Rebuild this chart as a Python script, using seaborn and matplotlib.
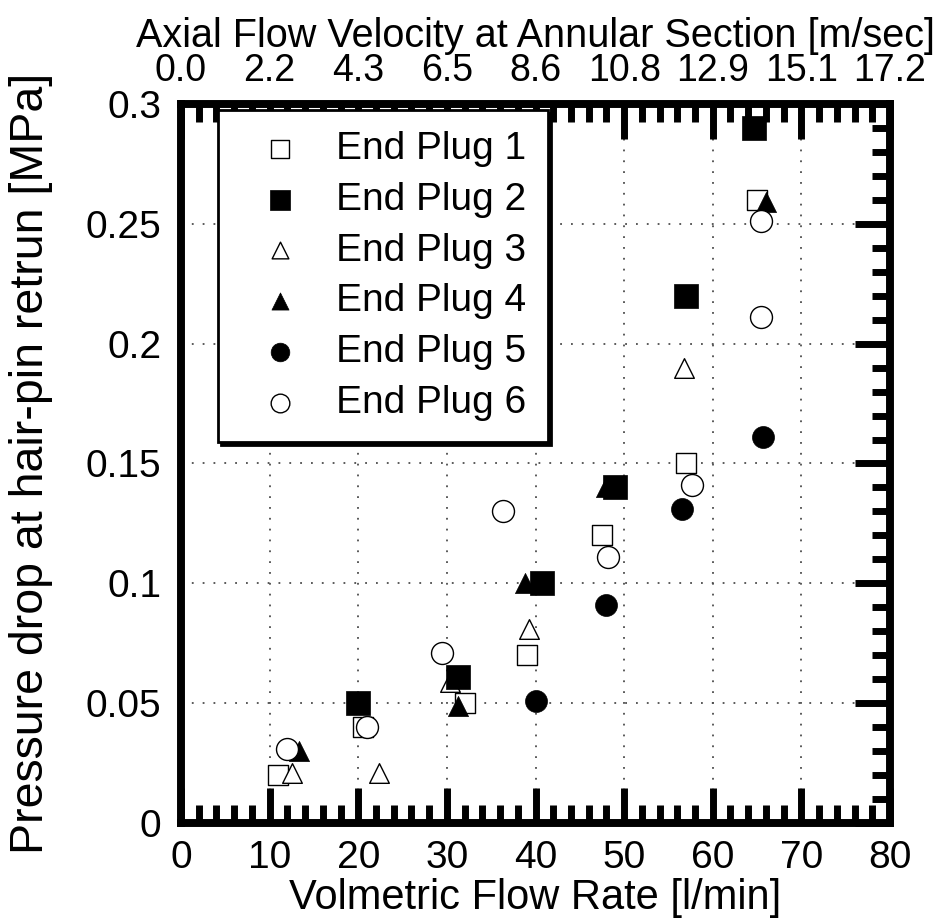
import numpy as np
import pandas as pd
import matplotlib
matplotlib.use("Agg")
import matplotlib.pyplot as plt
from matplotlib.ticker import MultipleLocator
import seaborn as sns

# ---- data ----
plug1_x = [11, 20.5, 32, 39, 47.5, 57, 65]
plug1_y = [0.02, 0.04, 0.05, 0.07, 0.12, 0.15, 0.26]
plug2_x = [20, 31.2, 40.7, 49, 57, 64.7]
plug2_y = [0.05, 0.061, 0.10, 0.14, 0.22, 0.29]
plug3_x = [12.5, 22.3, 30.3, 39.3, 56.7]
plug3_y = [0.021, 0.021, 0.059, 0.081, 0.19]
plug4_x = [13.3, 31.2, 38.8, 48, 66]
plug4_y = [0.030, 0.049, 0.10, 0.14, 0.259]
plug5_x = [40, 48, 56.5, 65.7]
plug5_y = [0.051, 0.091, 0.131, 0.161]
plug6_x = [12, 21, 29.5, 36.3, 48.2, 57.7, 65.5, 65.5]
plug6_y = [0.031, 0.04, 0.071, 0.13, 0.111, 0.141, 0.211, 0.251]

labels = ["End Plug 1", "End Plug 2", "End Plug 3", "End Plug 4", "End Plug 5", "End Plug 6"]
x_ticks = [0, 10, 20, 30, 40, 50, 60, 70, 80]
vel_labels = ["0.0", "2.2", "4.3", "6.5", "8.6", "10.8", "12.9", "15.1", "17.2"]
y_ticks = [0, 0.05, 0.1, 0.15, 0.2, 0.25, 0.3]
y_tick_labels = ["0", "0.05", "0.1", "0.15", "0.2", "0.25", "0.3"]

sns.set_style("white")
plt.rcParams["font.family"] = ["Liberation Sans", "DejaVu Sans"]
plt.rcParams.update({"text.color": "black", "axes.labelcolor": "black",
                     "xtick.color": "black", "ytick.color": "black",
                     "xtick.labelcolor": "black", "ytick.labelcolor": "black"})

fig = plt.figure(figsize=(9.43, 9.23), dpi=100)
ax = fig.add_axes([181/943, 1 - 823/923, (890-181)/943, (823-104)/923])

series = [
    (plug1_x, plug1_y, "s", "white", 220, 1),
    (plug2_x, plug2_y, "s", "black", 300, 3),
    (plug3_x, plug3_y, "^", "white", 200, 2),
    (plug4_x, plug4_y, "^", "black", 210, 4),
    (plug5_x, plug5_y, "o", "black", 250, 5),
    (plug6_x, plug6_y, "o", "white", 250, 6),
]
for (xs, ys, mk, fc, sz, zo), lab in zip(series, labels):
    df = pd.DataFrame({"q": xs, "p": ys})
    sns.scatterplot(data=df, x="q", y="p", marker=mk, s=sz, color=fc,
                    edgecolor="black", linewidth=1.0 if fc == "white" else 0.5,
                    label=lab, ax=ax, zorder=3 + zo, legend=False)

ax.set_xlim(0, 80)
ax.set_ylim(0, 0.3)
ax.set_xticks(x_ticks)
ax.set_xticklabels([str(v) for v in x_ticks])
ax.set_yticks(y_ticks)
ax.set_yticklabels(y_tick_labels)
ax.xaxis.set_minor_locator(MultipleLocator(2))
ax.yaxis.set_minor_locator(MultipleLocator(0.01))
ax.grid(True, which="major", color="0.3", linestyle=(0, (1, 5)), linewidth=1.3)
ax.set_axisbelow(True)
ax.tick_params(which="both", direction="in", top=False, right=True, color="black")
ax.tick_params(which="major", length=25, width=5, labelsize=28, pad=12)
ax.tick_params(which="minor", length=13, width=5)
ax.tick_params(axis="y", which="major", pad=14)
ax.set_xlabel("Volmetric Flow Rate [l/min]", fontsize=30, labelpad=2)
ax.set_ylabel("Pressure drop at hair-pin retrun [MPa]", fontsize=33.5)
ax.yaxis.set_label_coords(-0.18, 0.5)
for sp in ax.spines.values():
    sp.set_linewidth(5.5)
    sp.set_color("black")

ax2 = ax.twiny()
ax2.set_xlim(ax.get_xlim())
ax2.set_xticks(x_ticks)
ax2.set_xticklabels(vel_labels)
ax2.xaxis.set_minor_locator(MultipleLocator(2))
ax2.tick_params(which="both", direction="in", color="black")
ax2.tick_params(which="major", length=25, width=5, labelsize=27, pad=11)
ax2.tick_params(which="minor", length=13, width=5)
ax2.set_xlabel("Axial Flow Velocity at Annular Section [m/sec]", fontsize=28.5, labelpad=4)
for sp in ax2.spines.values():
    sp.set_linewidth(5.5)
    sp.set_color("black")

handles = ax.collections
leg = ax2.legend(handles, labels, loc="upper left", bbox_to_anchor=(0.052, 0.992),
                 borderaxespad=0, fontsize=28, frameon=True, fancybox=False,
                 shadow={"color": "black", "alpha": 1.0},
                 handlelength=2.1, handletextpad=0.4, labelspacing=0.38,
                 borderpad=0.55, markerscale=0.85)
leg.get_frame().set_edgecolor("black")
leg.get_frame().set_linewidth(2.0)
leg.get_frame().set_alpha(1.0)

fig.savefig("out.png", dpi=100)
